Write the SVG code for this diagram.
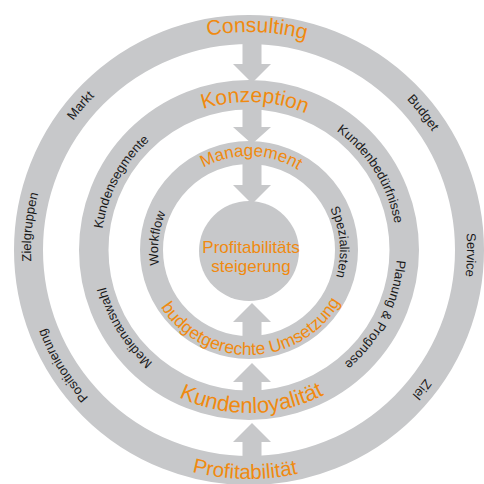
<svg xmlns="http://www.w3.org/2000/svg" width="484" height="484" viewBox="0 0 484 484">
<style>
.ring{fill:none;stroke:#c7c8ca}
.arrow{fill:#c7c8ca}
.hub{fill:#c7c8ca}
.lbl{font-family:"Liberation Sans",Arial,sans-serif;font-size:13px;fill:#1a1a1a}
.ttl{font-family:"Liberation Sans",Arial,sans-serif;fill:#f08a10}
</style>
<defs>
<path id="cw218" d="M249,468 A218,218 0 1 1 249,32 A218,218 0 1 1 249,468"/>
<path id="cw148" d="M249,398 A148,148 0 1 1 249,102 A148,148 0 1 1 249,398"/>
<path id="cw91" d="M249,341 A91,91 0 1 1 249,159 A91,91 0 1 1 249,341"/>
<path id="cw94" d="M249,344 A94,94 0 1 1 249,156 A94,94 0 1 1 249,344"/>
<path id="ccw105" d="M249,145 A105,105 0 1 0 249,355 A105,105 0 1 0 249,145"/>
<path id="ccw163" d="M249,87 A163,163 0 1 0 249,413 A163,163 0 1 0 249,87"/>
<path id="ccw229" d="M249,21 A229,229 0 1 0 249,479 A229,229 0 1 0 249,21"/>
</defs>
<g id="ring-outer">
<circle class="ring" cx="249" cy="250" r="220.5" stroke-width="29"/>
<text class="ttl" font-size="21" text-anchor="middle"><textPath href="#cw218" startOffset="50.58%">Consulting</textPath></text>
<text class="lbl" text-anchor="middle"><textPath href="#cw218" startOffset="36.28%">Markt</textPath></text>
<text class="lbl" text-anchor="middle"><textPath href="#cw218" startOffset="64.36%">Budget</textPath></text>
<text class="lbl" text-anchor="middle"><textPath href="#cw218" startOffset="26.67%">Zielgruppen</textPath></text>
<text class="lbl" text-anchor="middle"><textPath href="#cw218" startOffset="75.36%">Service</textPath></text>
<text class="lbl" text-anchor="middle"><textPath href="#cw218" startOffset="16.17%">Positionierung</textPath></text>
<text class="lbl" text-anchor="middle"><textPath href="#cw218" startOffset="85.8%">Ziel</textPath></text>
<text class="ttl" font-size="20.5" text-anchor="middle"><textPath href="#ccw229" startOffset="49.72%">Profitabilität</textPath></text>
</g>
<g id="ring-middle">
<circle class="ring" cx="249" cy="250" r="155.25" stroke-width="29.5"/>
<text class="ttl" font-size="21" text-anchor="middle"><textPath href="#cw148" startOffset="50.64%">Konzeption</textPath></text>
<text class="lbl" text-anchor="middle"><textPath href="#cw148" startOffset="32.78%">Kundensegmente</textPath></text>
<text class="lbl" text-anchor="middle"><textPath href="#cw148" startOffset="66.11%">Kundenbedürfnisse</textPath></text>
<text class="lbl" text-anchor="middle"><textPath href="#cw148" startOffset="16.11%">Medienauswahl</textPath></text>
<text class="lbl" text-anchor="middle"><textPath href="#cw148" startOffset="82.5%">Planung &amp; Prognose</textPath></text>
<text class="ttl" font-size="22" text-anchor="middle"><textPath href="#ccw163" startOffset="50.28%">Kundenloyalität</textPath></text>
</g>
<g id="ring-inner">
<circle class="ring" cx="249" cy="250" r="97.5" stroke-width="23"/>
<text class="ttl" font-size="17" text-anchor="middle"><textPath href="#cw94" startOffset="50.33%">Management</textPath></text>
<text class="lbl" text-anchor="middle"><textPath href="#cw91" startOffset="27%">Workflow</textPath></text>
<text class="lbl" text-anchor="middle"><textPath href="#cw91" startOffset="73.61%">Spezialisten</textPath></text>
<text class="ttl" font-size="17.5" text-anchor="middle"><textPath href="#ccw105" startOffset="50.44%">budgetgerechte Umsetzung</textPath></text>
</g>
<g id="connectors">
<polygon class="arrow" points="242.5,40 261.5,40 261.5,64 271,64 252,83 233,64 242.5,64"/>
<polygon class="arrow" points="242.5,105 261.5,105 261.5,127 271,127 252,144 233,127 242.5,127"/>
<polygon class="arrow" points="242.5,160 261.5,160 261.5,185 271,185 252,204 233,185 242.5,185"/>
<polygon class="arrow" points="242.5,340 261.5,340 261.5,322 271,322 252,303 233,322 242.5,322"/>
<polygon class="arrow" points="242.5,395 261.5,395 261.5,382 271,382 252,363 233,382 242.5,382"/>
<polygon class="arrow" points="242.5,460 261.5,460 261.5,442 271,442 252,423 233,442 242.5,442"/>
</g>
<g id="hub">
<circle class="hub" cx="249" cy="251" r="50"/>
<text class="ttl" font-size="17" text-anchor="middle" x="251" y="253">Profitabilitäts</text>
<text class="ttl" font-size="17" text-anchor="middle" x="251" y="272">steigerung</text>
</g>
</svg>
